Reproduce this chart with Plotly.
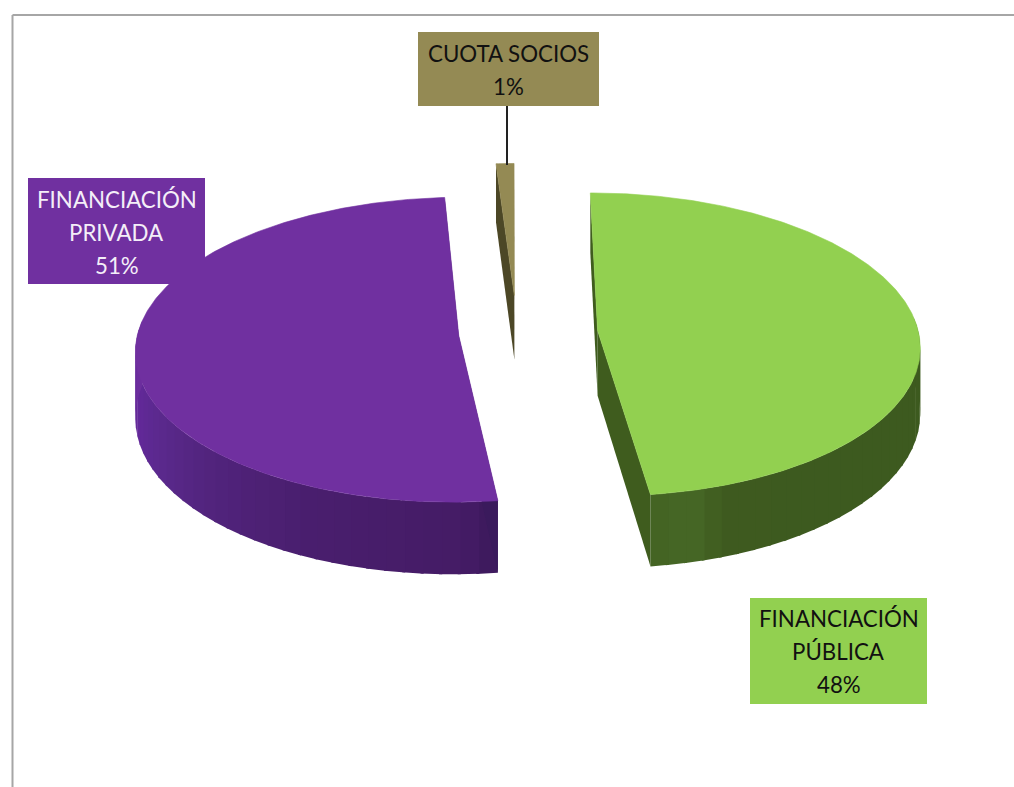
import numpy as np
import plotly.graph_objects as go

# Funding shares, clockwise from the first-slice angle
SLICE_NAMES = ["FINANCIACIÓN PÚBLICA", "FINANCIACIÓN PRIVADA", "CUOTA SOCIOS"]
SHARES = [48, 51, 1]
TOP_COLORS = ["#92D050", "#7030A0", "#948A54"]
FACE_COLORS = ["#3F5C1E", "#3A1A5C", "#4C4726"]
EXPLODE = [0.252, 0.182, 0.255]

# Rim shading: (clockwise angle in degrees, colour) stops
RIM_STOPS = [
    [(0, "#3D5A1F"), (150, "#3E5A1F"), (160, "#3F5B1F"), (165, "#456625"), (170, "#466726"), (173, "#41601F")],
    [(172, "#3A1A5A"), (178, "#451C66"), (205, "#4A1F6F"), (225, "#52247D"), (240, "#5A2A8C"), (255, "#63299A"), (270, "#6C2E9E"), (360, "#6C2E9E")],
    [(356, "#5A5430"), (360, "#5A5430")],
]

# Label boxes and their text lines
BOXES = [(750, 598, 927, 704), (28, 178, 205, 284), (418, 32, 599, 106)]
LABEL_LINES = [["FINANCIACIÓN", "PÚBLICA", "48%"], ["FINANCIACIÓN", "PRIVADA", "51%"], ["CUOTA SOCIOS", "1%"]]
LABEL_Y = [[618.5, 651.5, 684.5], [199.5, 232.5, 265.5], [53.5, 86.5]]
LABEL_COLORS = ["#111111", "#F4EEF8", "#111111"]

# Projection of the tilted disc onto the page
FIRST_ANGLE = -0.1
CX, CY = 517.0, 333.0
RX, RY = 321.0, 150.7
PERSP = 0.092
DEPTH = 65.4


def project(x, y, lowered=False):
    w = 1 + PERSP * y
    sx = CX + RX * x / w
    sy = CY - RY * y / w
    if lowered:
        sy = sy + DEPTH / w
    return sx, sy


def hex_rgb(c):
    return np.array([int(c[i:i + 2], 16) for i in (1, 3, 5)], dtype=float)


def rim_colour(stops, deg):
    angles = [s[0] for s in stops]
    rgb = [np.interp(deg, angles, [hex_rgb(s[1])[i] for s in stops]) for i in range(3)]
    return "rgb(%d,%d,%d)" % tuple(rgb)


def polygon(xs, ys, colour, width=0.6):
    return go.Scatter(x=xs, y=ys, mode="lines", fill="toself", fillcolor=colour,
                      line=dict(color=colour, width=width), hoverinfo="skip", showlegend=False)


fig = go.Figure()
start = FIRST_ANGLE
for i, share in enumerate(SHARES):
    sweep = share * 3.6
    a0, a1 = start, start + sweep
    start = a1
    mid = np.radians((a0 + a1) / 2)
    ox, oy = EXPLODE[i] * np.sin(mid), EXPLODE[i] * np.cos(mid)

    # Rim, split into overlapping bands that carry the shading; the far side stays hidden
    steps = max(int(sweep / 3), 1)
    edges = np.linspace(a0, a1, steps + 1)
    for e0, e1 in zip(edges[:-1], edges[1:]):
        centre_angle = (e0 + e1) / 2
        if np.cos(np.radians(centre_angle)) > 0.1:
            continue
        th = np.radians(np.linspace(e0, min(e1 + 0.5, a1), 5))
        px, py = ox + np.sin(th), oy + np.cos(th)
        tx, ty = project(px, py)
        bx, by = project(px, py, True)
        colour = rim_colour(RIM_STOPS[i], centre_angle)
        fig.add_trace(polygon(list(tx) + list(bx[::-1]), list(ty) + list(by[::-1]), colour, 0))

    # Two cut faces running from the rim to the apex
    for edge in (a0, a1):
        th = np.radians(edge)
        px = np.array([ox + np.sin(th), ox])
        py = np.array([oy + np.cos(th), oy])
        tx, ty = project(px, py)
        bx, by = project(px, py, True)
        fig.add_trace(polygon(list(tx) + list(bx[::-1]), list(ty) + list(by[::-1]), FACE_COLORS[i], 0))

    # Top surface
    th = np.radians(np.linspace(a0, a1, max(int(sweep), 4) * 2))
    px = np.concatenate([[ox], ox + np.sin(th), [ox]])
    py = np.concatenate([[oy], oy + np.cos(th), [oy]])
    tx, ty = project(px, py)
    fig.add_trace(polygon(tx, ty, TOP_COLORS[i], 0.6))

shapes = [
    # Chart frame
    dict(type="line", x0=12.5, x1=1014, y0=15, y1=15, line=dict(color="#A6A6A6", width=2)),
    dict(type="line", x0=12.5, x1=12.5, y0=15, y1=787, line=dict(color="#A6A6A6", width=2)),
    # Leader from the smallest slice to its label
    dict(type="line", x0=507, x1=507, y0=106, y1=165, line=dict(color="#222222", width=2)),
]
annotations = []
for i, box in enumerate(BOXES):
    shapes.append(dict(type="rect", x0=box[0], y0=box[1], x1=box[2], y1=box[3], layer="above",
                       fillcolor=TOP_COLORS[i], line=dict(width=0)))
    centre = (box[0] + box[2]) / 2
    for text, y in zip(LABEL_LINES[i], LABEL_Y[i]):
        annotations.append(dict(x=centre, y=y, text=text, showarrow=False, xanchor="center",
                                yanchor="middle", font=dict(family="Lato", size=22.3, color=LABEL_COLORS[i])))

fig.update_layout(
    width=1014, height=787, margin=dict(l=0, r=0, t=0, b=0),
    paper_bgcolor="white", plot_bgcolor="white", showlegend=False,
    xaxis=dict(range=[0, 1014], visible=False, fixedrange=True),
    yaxis=dict(range=[787, 0], visible=False, fixedrange=True),
    shapes=shapes, annotations=annotations,
)

fig.write_html("out.html")
